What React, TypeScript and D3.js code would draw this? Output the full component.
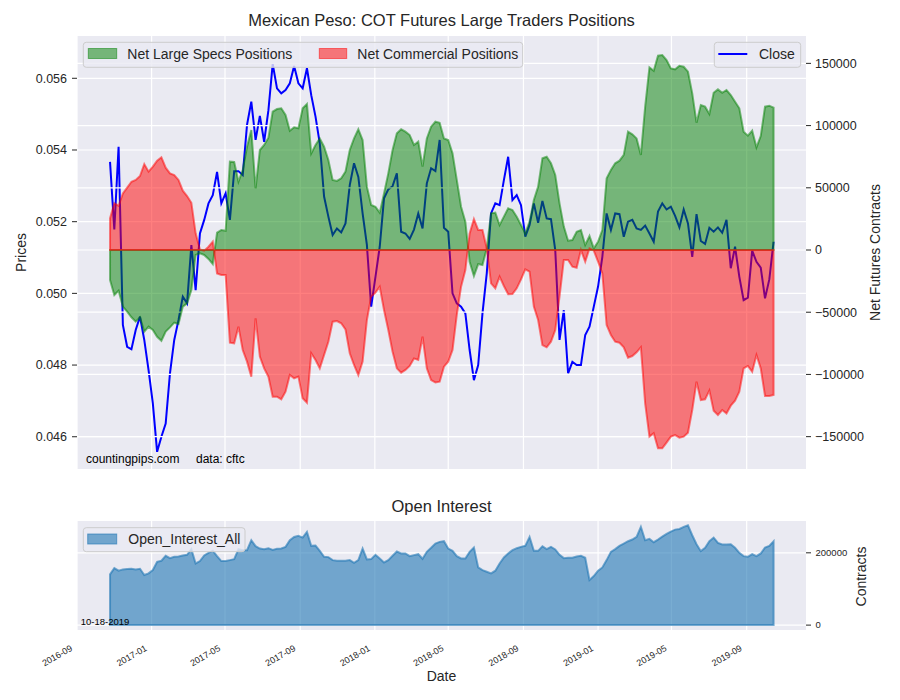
import * as d3 from "d3";

const FONT = "Liberation Sans, Arial, Helvetica, sans-serif";
const INK = "#262626";

// weekly COT reports (Tuesdays), first one in the chart
const firstReport = new Date(2016, 9, 25);

const closePrice = [
  0.05367, 0.05178, 0.05409, 0.04912, 0.04851, 0.04844, 0.04898, 0.04935, 0.0487, 0.04786,
  0.04693, 0.04558, 0.046, 0.04637, 0.04777, 0.0487, 0.04926, 0.04991, 0.04972, 0.05135,
  0.05009, 0.05167, 0.05205, 0.05251, 0.05274, 0.05339, 0.05251, 0.05279, 0.05205, 0.05341,
  0.05341, 0.0533, 0.0547, 0.05535, 0.05428, 0.05495, 0.05423, 0.05511, 0.0564, 0.05572,
  0.05558, 0.05567, 0.05586, 0.05634, 0.05586, 0.05572, 0.05628, 0.05553, 0.05493, 0.05418,
  0.0527, 0.05214, 0.05163, 0.05181, 0.0517, 0.05195, 0.05302, 0.05363, 0.05325, 0.05223,
  0.05135, 0.04963, 0.05046, 0.0513, 0.05265, 0.0529, 0.05299, 0.05335, 0.05172, 0.05167,
  0.05152, 0.05178, 0.05223, 0.05181, 0.05307, 0.05349, 0.05341, 0.05428, 0.05183, 0.05172,
  0.05, 0.04972, 0.04963, 0.04944, 0.04842, 0.04758, 0.048, 0.04944, 0.05056, 0.05223,
  0.05251, 0.05246, 0.05316, 0.05381, 0.0526, 0.05274, 0.05246, 0.05158, 0.05191, 0.05251,
  0.05197, 0.05258, 0.05209, 0.05207, 0.05121, 0.0487, 0.04953, 0.04777, 0.04809, 0.048,
  0.048, 0.04884, 0.04907, 0.04963, 0.05019, 0.05102, 0.05223, 0.05177, 0.05223, 0.05221,
  0.05158, 0.052, 0.05205, 0.05181, 0.05177, 0.05189, 0.05167, 0.05144, 0.05228, 0.05251,
  0.05234, 0.05242, 0.05216, 0.05184, 0.05234, 0.05195, 0.05102, 0.05221, 0.05146, 0.05138,
  0.05183, 0.05172, 0.05184, 0.05169, 0.05205, 0.0507, 0.0513, 0.05046, 0.04981, 0.04988,
  0.05119, 0.05088, 0.05072, 0.04986, 0.05039, 0.05144,
];

const largeSpecs = [
  -24100, -36200, -32700, -45500, -49600, -54100, -57600, -54100, -65600, -61600,
  -64300, -69700, -72900, -65600, -62200, -58400, -59500, -45500, -42900, -32100,
  -4000, -2700, -4000, -7200, -11300, 13900, 16100, 15500, 71000, 70700,
  54900, 64300, 83000, 96400, 49600, 80400, 84400, 90300, 111200, 113300,
  113900, 108500, 95900, 98600, 97800, 113900, 117300, 77700, 84400, 89700,
  83000, 72300, 56300, 55500, 57600, 63000, 80400, 89700, 97000, 88400,
  50900, 36200, 34800, 30000, 45500, 61600, 80400, 93800, 97000, 95100,
  92400, 84400, 87100, 67000, 89700, 99100, 103100, 102300, 89700, 88400,
  77700, 56300, 34800, 22800, -9400, -20900, -11300, -12100, 1300, 29500,
  30000, 20100, 26800, 33500, 32100, 26800, 20100, 13400, 22800, 40200,
  50900, 73700, 75000, 69700, 60300, 37500, 18800, 7500, 8000, 14700,
  16100, 4000, 11300, 1300, 6700, 16100, 57600, 64300, 69700, 71800,
  76400, 95100, 93000, 89700, 76400, 115200, 146800, 144100, 156200, 156700,
  152700, 146000, 145200, 148100, 147300, 143300, 125900, 102300, 116500, 115200,
  109300, 126400, 129100, 126400, 128600, 124600, 119200, 113900, 95100, 91900,
  95900, 82500, 91600, 115200, 116000, 114400,
];

const commercial = [
  25500, 37500, 35600, 45500, 50100, 54900, 56300, 59500, 69100, 63000,
  67000, 71800, 74500, 66200, 61600, 60300, 56300, 47700, 43400, 38000,
  13400, 500, -500, 2700, 6700, -18800, -20100, -20100, -74500, -75000,
  -61600, -80400, -89700, -101800, -54900, -85700, -95100, -101800, -117900, -117900,
  -120000, -113900, -100500, -103100, -101800, -119200, -122700, -83000, -88400, -95100,
  -84400, -73700, -57600, -57100, -58900, -63800, -83000, -92400, -100500, -89700,
  -56300, -37500, -34300, -29500, -48200, -64300, -81700, -95100, -98600, -96400,
  -93200, -87100, -88400, -69700, -95100, -104500, -106400, -105800, -93800, -89700,
  -80400, -52200, -29500, -16100, 13400, 24900, 16100, 16100, 1300, -26800,
  -30800, -21400, -28900, -35600, -35400, -30800, -23600, -15500, -17400, -45500,
  -56300, -76400, -78200, -73700, -64300, -37500, -8000, -8000, -13400, -14200,
  0, -9400, 1300, -500, -9400, -18800, -60300, -68300, -73700, -74500,
  -78200, -86500, -85200, -82200, -78200, -123200, -150000, -147300, -159400, -159400,
  -154800, -150000, -148700, -150800, -150000, -146800, -128600, -105800, -120600, -120000,
  -113000, -129100, -132600, -128600, -131300, -125100, -121100, -113900, -95100, -93200,
  -97800, -84400, -95100, -117300, -117300, -116500,
];

const openInterest = [
  140400, 157800, 150500, 154100, 155000, 156000, 154100, 156000, 138500, 143100,
  152300, 175200, 178000, 191700, 185300, 189000, 189900, 192700, 194500, 210100,
  170600, 177100, 192700, 200000, 205500, 190800, 177100, 177100, 179800, 182600,
  210100, 207300, 207300, 234900, 218300, 211900, 210100, 212800, 208200, 211000,
  211900, 216500, 234900, 244000, 246800, 242200, 257800, 219300, 220200, 205500,
  189000, 188100, 179800, 178000, 178000, 178000, 179800, 172500, 179800, 211900,
  181600, 182600, 194500, 184400, 173400, 179800, 191700, 203700, 198200, 198200,
  190800, 193600, 196300, 183500, 202700, 213800, 225700, 230300, 232100, 211900,
  205500, 190800, 184400, 184400, 202700, 214700, 159600, 152300, 147700, 143100,
  150500, 170600, 187100, 198200, 207300, 212800, 216500, 219300, 244000, 205500,
  205500, 218300, 210100, 216500, 209200, 194500, 185300, 186200, 186200, 189900,
  191700, 186200, 124800, 135800, 150500, 159600, 179800, 202700, 210100, 219300,
  225700, 232100, 236700, 244000, 271600, 234900, 238500, 229400, 236700, 244900,
  252300, 258700, 264200, 266000, 271600, 276100, 248600, 223800, 204600, 213800,
  232100, 242200, 227500, 222900, 222900, 223800, 213800, 200000, 190800, 189000,
  196300, 190800, 198200, 214700, 219300, 232100,
];

const priceTicks = [0.046, 0.048, 0.05, 0.052, 0.054, 0.056];
const netTicks = [-150000, -100000, -50000, 0, 50000, 100000, 150000];
const oiTicks = [0, 200000];

const dates = closePrice.map((_, i) => d3.timeDay.offset(firstReport, 7 * i));

const L = 77, R = 806;
const TOP = { t: 36, b: 469 };
const BOT = { t: 521, b: 630 };

const x = d3.scaleTime().domain([new Date(2016, 8, 1), new Date(2019, 11, 7)]).range([L, R]);
const yPrice = d3.scaleLinear().domain([0.0451, 0.05718]).range([TOP.b, TOP.t]);
const yNet = d3.scaleLinear().domain([-176000, 172000]).range([TOP.b, TOP.t]);
const yOI = d3.scaleLinear().domain([-13500, 288000]).range([BOT.b, BOT.t]);

const dateTicks = d3.timeMonth.every(4)!.range(new Date(2016, 8, 1), new Date(2019, 10, 1));
const fmtDate = d3.timeFormat("%Y-%m");
const minus = (s: string) => s.replace("-", "\u2212");

const priceLine = d3.line<number>().x((_, i) => x(dates[i])).y(d => yPrice(d));
const netArea = d3.area<number>().x((_, i) => x(dates[i])).y0(yNet(0)).y1(d => yNet(d));
const oiArea = d3.area<number>().x((_, i) => x(dates[i])).y0(yOI(0)).y1(d => yOI(d));

const Legend = ({ x0, y0, w, h }: { x0: number; y0: number; w: number; h: number }) => (
  <rect x={x0} y={y0} width={w} height={h} rx={3} fill="#EAEAF2" fillOpacity={0.8} stroke="#cccccc" />
);

export default function App() {
  return (
    <svg width={900} height={700} style={{ position: "absolute", left: 0, top: 0 }} fontFamily={FONT}>
      <rect width={900} height={700} fill="white" />

      {/* ---------- top panel ---------- */}
      <text x={441.5} y={26} textAnchor="middle" fontSize={16.5} fill={INK}>
        Mexican Peso: COT Futures Large Traders Positions
      </text>
      <rect x={L} y={TOP.t} width={R - L} height={TOP.b - TOP.t} fill="#EAEAF2" />
      {dateTicks.map(t => (
        <line key={+t} x1={x(t)} x2={x(t)} y1={TOP.t} y2={TOP.b} stroke="white" strokeWidth={1.2} />
      ))}
      {priceTicks.map(t => (
        <line key={t} x1={L} x2={R} y1={yPrice(t)} y2={yPrice(t)} stroke="white" strokeWidth={1.2} />
      ))}
      <path d={priceLine(closePrice)!} fill="none" stroke="blue" strokeWidth={2} />
      {netTicks.map(t => (
        <line key={t} x1={L} x2={R} y1={yNet(t)} y2={yNet(t)} stroke="white" strokeWidth={1.2} />
      ))}
      <path d={netArea(largeSpecs)!} fill="green" fillOpacity={0.5} stroke="green" strokeOpacity={0.5} strokeWidth={2} />
      <path d={netArea(commercial)!} fill="red" fillOpacity={0.5} stroke="red" strokeOpacity={0.5} strokeWidth={2} />

      {priceTicks.map(t => (
        <g key={t}>
          <line x1={72} x2={L} y1={yPrice(t)} y2={yPrice(t)} stroke={INK} />
          <text x={67} y={yPrice(t)} dy="0.35em" textAnchor="end" fontSize={12.5} fill={INK}>
            {d3.format(".3f")(t)}
          </text>
        </g>
      ))}
      {netTicks.map(t => (
        <g key={t}>
          <line x1={R} x2={R + 5} y1={yNet(t)} y2={yNet(t)} stroke={INK} />
          <text x={815} y={yNet(t)} dy="0.35em" fontSize={12.5} fill={INK}>
            {minus(String(t))}
          </text>
        </g>
      ))}
      <text transform="translate(25.5,252.5) rotate(-90)" textAnchor="middle" fontSize={14} fill={INK}>Prices</text>
      <text transform="translate(880,252.5) rotate(-90)" textAnchor="middle" fontSize={14} fill={INK}>
        Net Futures Contracts
      </text>

      <Legend x0={83.3} y0={42.3} w={439.4} h={25} />
      <rect x={88.3} y={48.5} width={28.4} height={10} fill="green" fillOpacity={0.5} stroke="green" strokeOpacity={0.5} />
      <text x={127.3} y={59.3} fontSize={14} fill={INK}>Net Large Specs Positions</text>
      <rect x={319.3} y={48.5} width={27.4} height={10} fill="red" fillOpacity={0.5} stroke="red" strokeOpacity={0.5} />
      <text x={357.3} y={59.3} fontSize={14} fill={INK}>Net Commercial Positions</text>

      <Legend x0={714.3} y0={42.3} w={86.4} h={25} />
      <line x1={718.3} x2={747.3} y1={54} y2={54} stroke="blue" strokeWidth={2} />
      <text x={759} y={59.3} fontSize={14} fill={INK}>Close</text>

      <text x={86} y={463} fontSize={12} fill="black">countingpips.com</text>
      <text x={196} y={463} fontSize={12} fill="black">data: cftc</text>

      {/* ---------- bottom panel ---------- */}
      <text x={441.5} y={512} textAnchor="middle" fontSize={16.5} fill={INK}>Open Interest</text>
      <rect x={L} y={BOT.t} width={R - L} height={BOT.b - BOT.t} fill="#EAEAF2" />
      {dateTicks.map(t => (
        <line key={+t} x1={x(t)} x2={x(t)} y1={BOT.t} y2={BOT.b} stroke="white" strokeWidth={1.2} />
      ))}
      {oiTicks.map(t => (
        <line key={t} x1={L} x2={R} y1={yOI(t)} y2={yOI(t)} stroke="white" strokeWidth={1.2} />
      ))}
      <path d={oiArea(openInterest)!} fill="#1f77b4" fillOpacity={0.6} stroke="#1f77b4" strokeOpacity={0.6} strokeWidth={2} />
      {oiTicks.map(t => (
        <g key={t}>
          <line x1={R} x2={R + 5} y1={yOI(t)} y2={yOI(t)} stroke={INK} />
          <text x={815.5} y={yOI(t)} dy="0.35em" fontSize={9.5} fill={INK}>{t}</text>
        </g>
      ))}
      <text transform="translate(866,576.5) rotate(-90)" textAnchor="middle" fontSize={14} fill={INK}>Contracts</text>

      <Legend x0={83.3} y0={527.7} w={161.7} h={24} />
      <rect x={87.7} y={534} width={29} height={10} fill="#1f77b4" fillOpacity={0.6} stroke="#1f77b4" strokeOpacity={0.6} />
      <text x={128.3} y={544} fontSize={14} fill={INK}>Open_Interest_All</text>
      <text x={80.7} y={625} fontSize={9.5} fill="black">10-18-2019</text>

      {dateTicks.map(t => (
        <text key={+t} transform={`translate(${x(t) - 4},650) rotate(-30)`} textAnchor="end" fontSize={9} fill={INK}>
          {fmtDate(t)}
        </text>
      ))}
      <text x={441.5} y={681} textAnchor="middle" fontSize={14} fill={INK}>Date</text>
    </svg>
  );
}
